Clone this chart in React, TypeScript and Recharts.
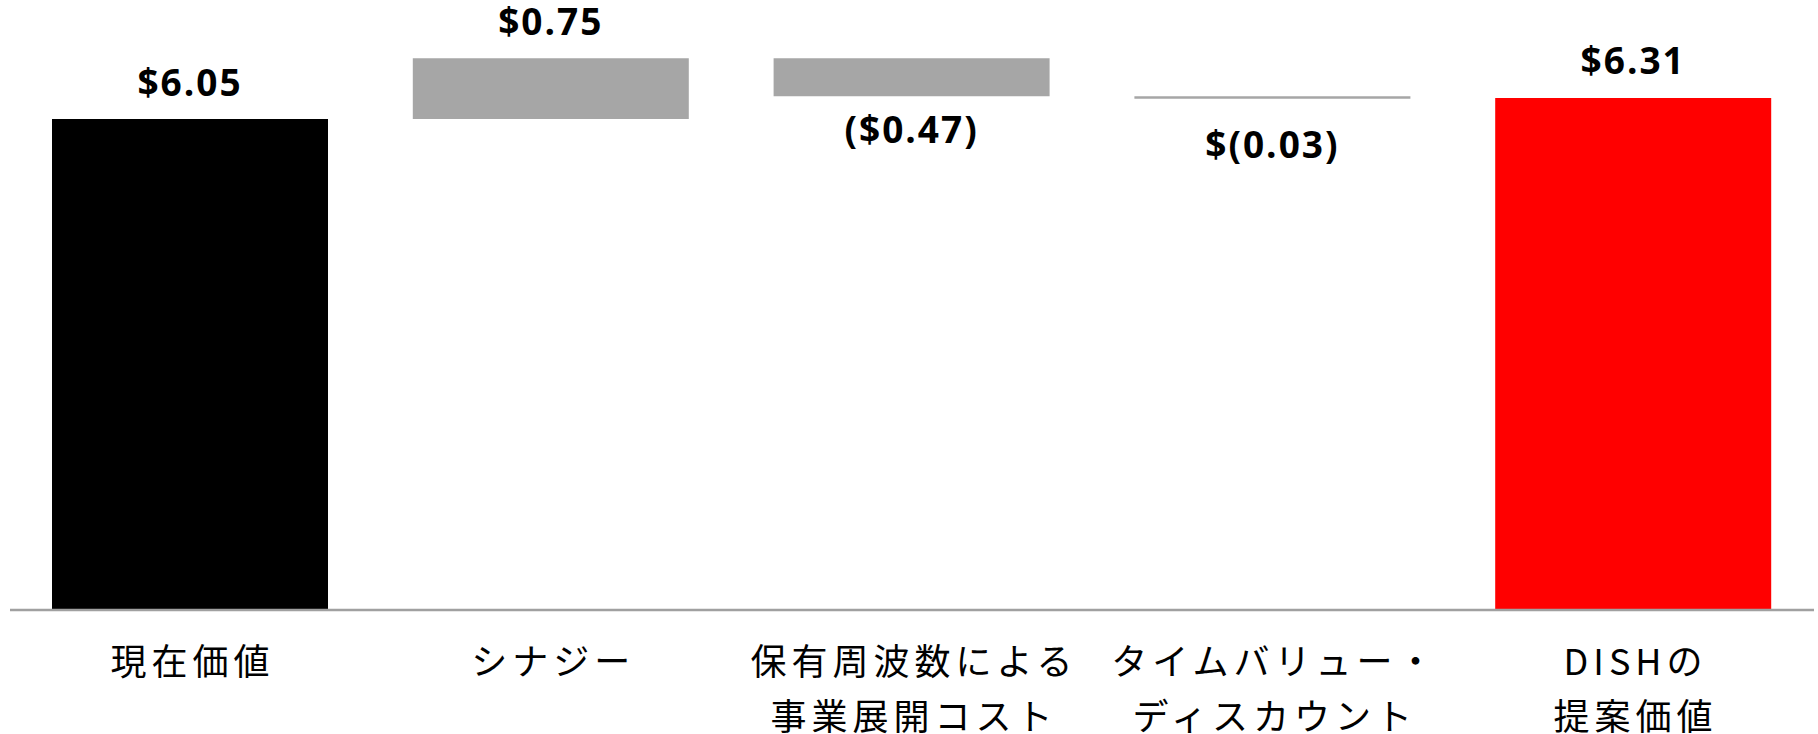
import React from 'react';
import { BarChart, Bar, XAxis, YAxis, Cell, LabelList } from 'recharts';

const categories = [
  '現在価値',
  'シナジー',
  '保有周波数による\n事業展開コスト',
  'タイムバリュー・\nディスカウント',
  'DISHの\n提案価値',
];
const deltas = [6.05, 0.75, -0.47, -0.03, 6.31];
const kinds = ['total', 'delta', 'delta', 'delta', 'total'];
const valueLabels = ['$6.05', '$0.75', '($0.47)', '$(0.03)', '$6.31'];
const barColors = ['#000000', '#A6A6A6', '#A6A6A6', '#A6A6A6', '#FF0000'];

const buildData = () => {
  let running = 0;
  return categories.map((name, i) => {
    const d = deltas[i];
    let base = 0;
    let height = 0;
    if (kinds[i] === 'total') {
      base = 0;
      height = d;
      running = d;
    } else if (d >= 0) {
      base = running;
      height = d;
      running += d;
    } else {
      running += d;
      base = running;
      height = -d;
    }
    return { name, base, height, label: valueLabels[i], neg: d < 0 };
  });
};

const data = buildData();

const NEG_OFFSETS = [0, 0, 32, 45, 0];

const renderLabel = (props: any) => {
  const { x, y, width, height, index } = props;
  const item = data[index];
  const cx = Number(x) + Number(width) / 2;
  const top = Number(y);
  const bottom = Number(y) + Number(height);
  const cy = item.neg ? bottom + NEG_OFFSETS[index] : top - 38;
  return (
    <text
      x={cx}
      y={cy}
      textAnchor="middle"
      dominantBaseline="central"
      fontFamily="'Open Sans', sans-serif"
      fontWeight={700}
      fontSize={37}
      letterSpacing={2}
      fill="#000000"
    >
      {item.label}
    </text>
  );
};

const CategoryTick = (props: any) => {
  const { x, y, payload } = props;
  const lines = String(payload.value).split('\n');
  return (
    <g>
      {lines.map((line, i) => (
        <text
          key={i}
          x={x + 2}
          y={y + 41 + i * 55}
          textAnchor="middle"
          dominantBaseline="central"
          fontFamily="'Noto Sans CJK JP', sans-serif"
          fontSize={36}
          letterSpacing={5}
          fill="#000000"
        >
          {line}
        </text>
      ))}
    </g>
  );
};

export default function App() {
  return (
    <div style={{ position: 'absolute', left: 0, top: 0, background: '#fff' }}>
      <BarChart
        width={1818}
        height={734}
        data={data}
        margin={{ top: 3, right: 4, bottom: 0, left: 10 }}
        barSize={276}
      >
        <XAxis
          dataKey="name"
          axisLine={{ stroke: '#A0A0A0', strokeWidth: 2.5 }}
          tickLine={false}
          interval={0}
          tick={<CategoryTick />}
          height={124}
        />
        <YAxis hide domain={[0, 7.48]} />
        <Bar dataKey="base" stackId="a" fill="transparent" isAnimationActive={false} />
        <Bar dataKey="height" stackId="a" isAnimationActive={false}>
          {data.map((_, i) => (
            <Cell key={i} fill={barColors[i]} />
          ))}
          <LabelList dataKey="label" content={renderLabel} />
        </Bar>
      </BarChart>
    </div>
  );
}
